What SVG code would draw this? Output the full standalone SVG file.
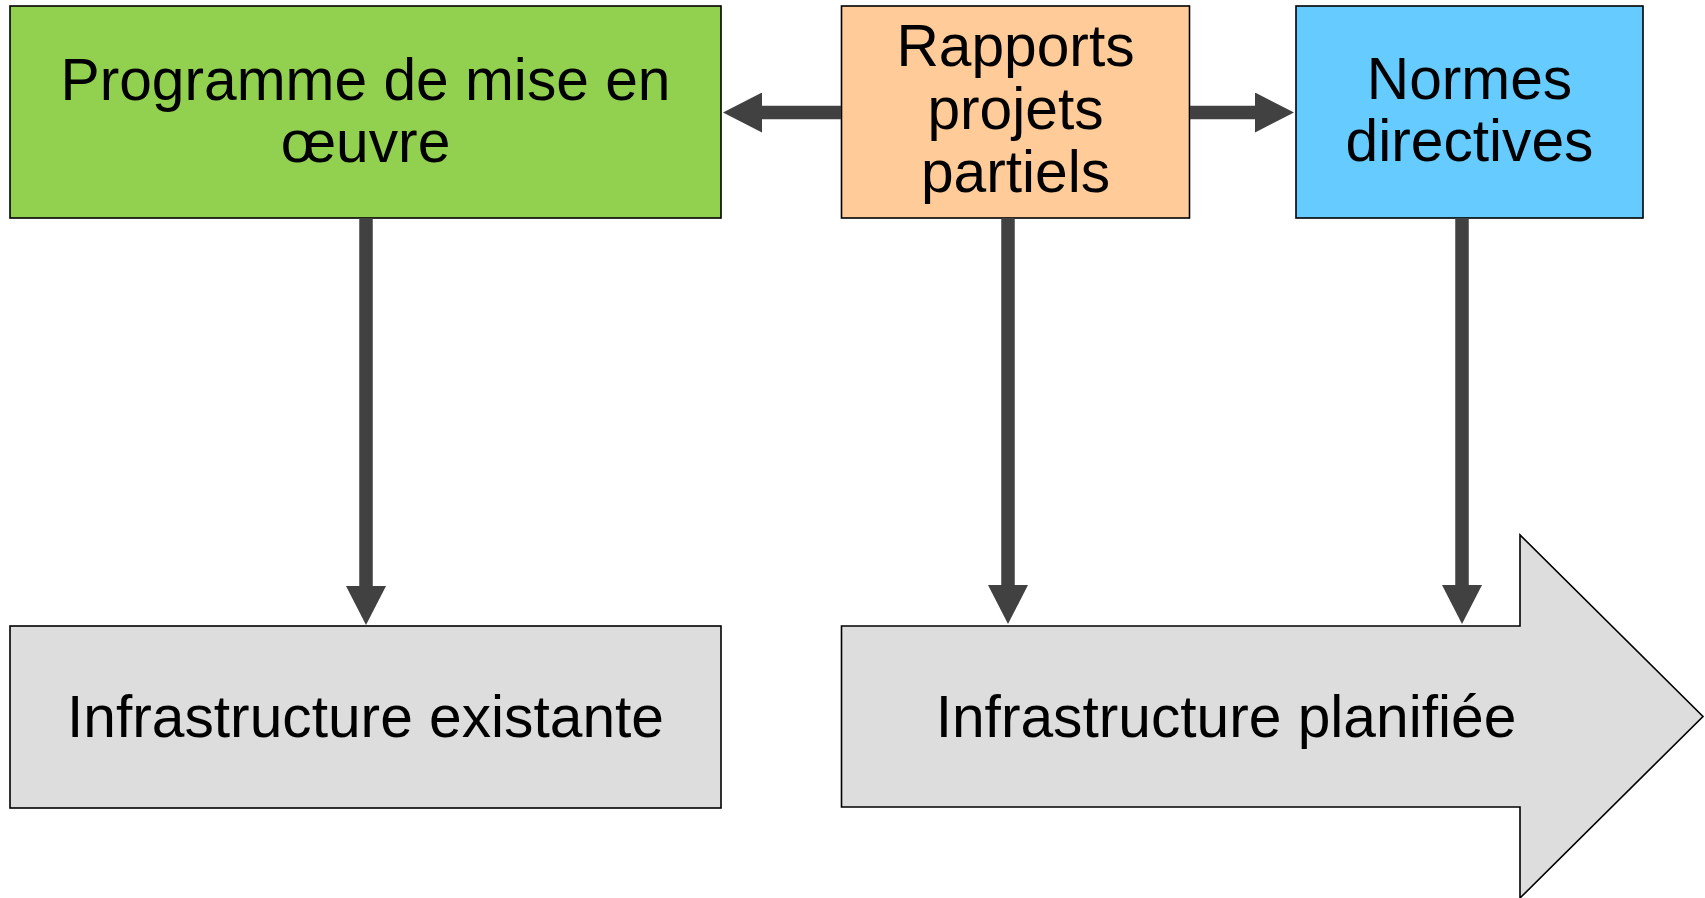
<svg xmlns="http://www.w3.org/2000/svg" width="1705" height="898" viewBox="0 0 1705 898">
  <style>
    .box { stroke: #000000; stroke-width: 1.6; }
    .lbl { font-family: "Liberation Sans", Arial, sans-serif; font-size: 58.7px; fill: #000000; text-anchor: middle; }
    .con { stroke: #414141; stroke-width: 13.5; fill: none; }
  </style>
  <defs>
    <marker id="ah" markerUnits="userSpaceOnUse" markerWidth="40" markerHeight="40" refX="1" refY="20" orient="auto" viewBox="0 0 40 40">
      <path d="M0,0 L39,20 L0,40 Z" fill="#414141"/>
    </marker>
  </defs>
  <rect width="1705" height="898" fill="#ffffff"/>

  <g id="programme">
    <rect class="box" x="10" y="6" width="711" height="212" fill="#92d050"/>
    <text class="lbl" x="365.5" y="99.5">Programme de mise en</text>
    <text class="lbl" x="365.5" y="161.5">œuvre</text>
  </g>

  <g id="rapports">
    <rect class="box" x="841.5" y="6" width="348" height="212" fill="#ffcc99"/>
    <text class="lbl" x="1015.5" y="66">Rapports</text>
    <text class="lbl" x="1015.5" y="129">projets</text>
    <text class="lbl" x="1015.5" y="192">partiels</text>
  </g>

  <g id="normes">
    <rect class="box" x="1296" y="6" width="347" height="212" fill="#66ccff"/>
    <text class="lbl" x="1469.5" y="98.5">Normes</text>
    <text class="lbl" x="1469.5" y="161">directives</text>
  </g>

  <g id="existante">
    <rect class="box" x="10" y="626" width="711" height="182" fill="#dddddd"/>
    <text class="lbl" x="365.5" y="736.5">Infrastructure existante</text>
  </g>

  <g id="planifiee">
    <polygon class="box" points="841.5,626 1520,626 1520,535 1703,716.5 1520,898 1520,807 841.5,807" fill="#dddddd"/>
    <text class="lbl" x="1226" y="736.5">Infrastructure planifiée</text>
  </g>

  <g id="connectors">
    <line class="con" x1="841" y1="112.5" x2="761" y2="112.5" marker-end="url(#ah)"/>
    <line class="con" x1="1190" y1="112.5" x2="1256" y2="112.5" marker-end="url(#ah)"/>
    <line class="con" x1="366" y1="218" x2="366" y2="587" marker-end="url(#ah)"/>
    <line class="con" x1="1008" y1="218" x2="1008" y2="586" marker-end="url(#ah)"/>
    <line class="con" x1="1462" y1="218" x2="1462" y2="586" marker-end="url(#ah)"/>
  </g>
</svg>
